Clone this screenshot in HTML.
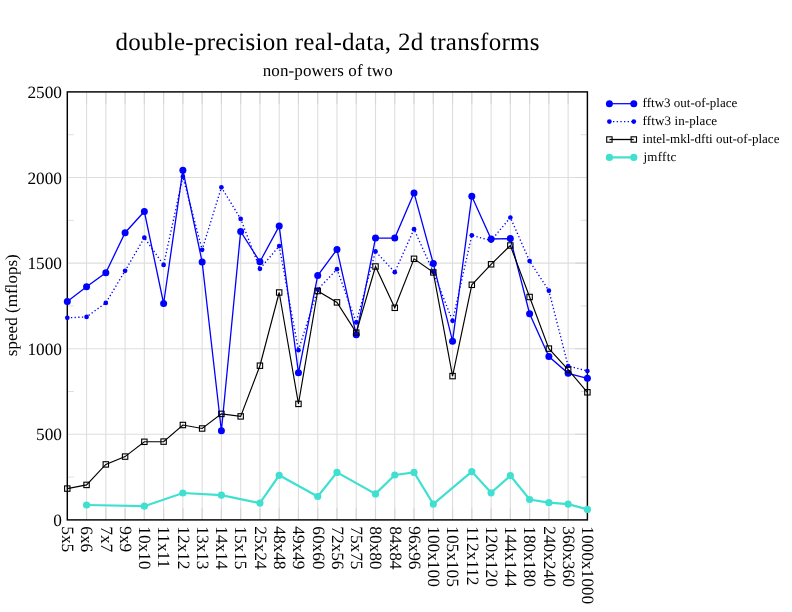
<!DOCTYPE html><html><head><meta charset="utf-8"><style>html,body{margin:0;padding:0;background:#fff;}svg{display:block;will-change:transform;}text{font-family:"Liberation Serif", serif;text-rendering:geometricPrecision;}</style></head><body>
<svg width="792" height="612" viewBox="0 0 792 612">
<rect width="792" height="612" fill="#fff"/>
<path d="M86.56 91.9V519.9M105.83 91.9V519.9M125.09 91.9V519.9M144.35 91.9V519.9M163.61 91.9V519.9M182.88 91.9V519.9M202.14 91.9V519.9M221.4 91.9V519.9M240.67 91.9V519.9M259.93 91.9V519.9M279.19 91.9V519.9M298.46 91.9V519.9M317.72 91.9V519.9M336.98 91.9V519.9M356.24 91.9V519.9M375.51 91.9V519.9M394.77 91.9V519.9M414.03 91.9V519.9M433.3 91.9V519.9M452.56 91.9V519.9M471.82 91.9V519.9M491.09 91.9V519.9M510.35 91.9V519.9M529.61 91.9V519.9M548.87 91.9V519.9M568.14 91.9V519.9M67.3 434.3H587.4M67.3 348.7H587.4M67.3 263.1H587.4M67.3 177.5H587.4" stroke="#dedede" stroke-width="1.1" fill="none"/>
<path d="M67.3 477.1h6.6M587.4 477.1h-6.6M67.3 391.5h6.6M587.4 391.5h-6.6M67.3 305.9h6.6M587.4 305.9h-6.6M67.3 220.3h6.6M587.4 220.3h-6.6M67.3 134.7h6.6M587.4 134.7h-6.6" stroke="#dedede" stroke-width="1" fill="none"/>
<path d="M86.56 519.9v-12M86.56 91.9v12M105.83 519.9v-12M105.83 91.9v12M125.09 519.9v-12M125.09 91.9v12M144.35 519.9v-12M144.35 91.9v12M163.61 519.9v-12M163.61 91.9v12M182.88 519.9v-12M182.88 91.9v12M202.14 519.9v-12M202.14 91.9v12M221.4 519.9v-12M221.4 91.9v12M240.67 519.9v-12M240.67 91.9v12M259.93 519.9v-12M259.93 91.9v12M279.19 519.9v-12M279.19 91.9v12M298.46 519.9v-12M298.46 91.9v12M317.72 519.9v-12M317.72 91.9v12M336.98 519.9v-12M336.98 91.9v12M356.24 519.9v-12M356.24 91.9v12M375.51 519.9v-12M375.51 91.9v12M394.77 519.9v-12M394.77 91.9v12M414.03 519.9v-12M414.03 91.9v12M433.3 519.9v-12M433.3 91.9v12M452.56 519.9v-12M452.56 91.9v12M471.82 519.9v-12M471.82 91.9v12M491.09 519.9v-12M491.09 91.9v12M510.35 519.9v-12M510.35 91.9v12M529.61 519.9v-12M529.61 91.9v12M548.87 519.9v-12M548.87 91.9v12M568.14 519.9v-12M568.14 91.9v12M587.4 434.3h-12M587.4 348.7h-12M587.4 263.1h-12M587.4 177.5h-12" stroke="#d6d6d6" stroke-width="1.1" fill="none"/>
<rect x="67.3" y="91.9" width="520.1" height="428" fill="none" stroke="#000" stroke-width="1.45"/>
<path d="M67.3 301.4 L86.56 286.8 L105.83 272.7 L125.09 232.7 L144.35 211.5 L163.61 303.5 L182.88 170.2 L202.14 262 L221.4 430.8 L240.67 231.5 L259.93 261.8 L279.19 226.1 L298.46 372.8 L317.72 275.6 L336.98 249.5 L356.24 334.8 L375.51 238.1 L394.77 238.1 L414.03 192.9 L433.3 263.6 L452.56 341.2 L471.82 196.3 L491.09 239 L510.35 238.6 L529.61 313.7 L548.87 356.5 L568.14 373.3 L587.4 378.3" stroke="#0000ff" stroke-width="1.3" fill="none" stroke-linejoin="miter"/>
<circle cx="67.3" cy="301.4" r="3.5" fill="#0000ff"/><circle cx="86.56" cy="286.8" r="3.5" fill="#0000ff"/><circle cx="105.83" cy="272.7" r="3.5" fill="#0000ff"/><circle cx="125.09" cy="232.7" r="3.5" fill="#0000ff"/><circle cx="144.35" cy="211.5" r="3.5" fill="#0000ff"/><circle cx="163.61" cy="303.5" r="3.5" fill="#0000ff"/><circle cx="182.88" cy="170.2" r="3.5" fill="#0000ff"/><circle cx="202.14" cy="262" r="3.5" fill="#0000ff"/><circle cx="221.4" cy="430.8" r="3.5" fill="#0000ff"/><circle cx="240.67" cy="231.5" r="3.5" fill="#0000ff"/><circle cx="259.93" cy="261.8" r="3.5" fill="#0000ff"/><circle cx="279.19" cy="226.1" r="3.5" fill="#0000ff"/><circle cx="298.46" cy="372.8" r="3.5" fill="#0000ff"/><circle cx="317.72" cy="275.6" r="3.5" fill="#0000ff"/><circle cx="336.98" cy="249.5" r="3.5" fill="#0000ff"/><circle cx="356.24" cy="334.8" r="3.5" fill="#0000ff"/><circle cx="375.51" cy="238.1" r="3.5" fill="#0000ff"/><circle cx="394.77" cy="238.1" r="3.5" fill="#0000ff"/><circle cx="414.03" cy="192.9" r="3.5" fill="#0000ff"/><circle cx="433.3" cy="263.6" r="3.5" fill="#0000ff"/><circle cx="452.56" cy="341.2" r="3.5" fill="#0000ff"/><circle cx="471.82" cy="196.3" r="3.5" fill="#0000ff"/><circle cx="491.09" cy="239" r="3.5" fill="#0000ff"/><circle cx="510.35" cy="238.6" r="3.5" fill="#0000ff"/><circle cx="529.61" cy="313.7" r="3.5" fill="#0000ff"/><circle cx="548.87" cy="356.5" r="3.5" fill="#0000ff"/><circle cx="568.14" cy="373.3" r="3.5" fill="#0000ff"/><circle cx="587.4" cy="378.3" r="3.5" fill="#0000ff"/>
<path d="M67.3 317.8 L86.56 316.9 L105.83 302.9 L125.09 270.8 L144.35 237.7 L163.61 264.9 L182.88 176.7 L202.14 249.8 L221.4 187.3 L240.67 218.9 L259.93 268.8 L279.19 246.1 L298.46 350.2 L317.72 289.5 L336.98 269.2 L356.24 322.4 L375.51 251.4 L394.77 272.2 L414.03 229.2 L433.3 272 L452.56 320.8 L471.82 235.3 L491.09 240.6 L510.35 217.5 L529.61 261.1 L548.87 290.7 L568.14 366 L587.4 371" stroke="#0000ff" stroke-width="1.35" fill="none" stroke-linejoin="miter" stroke-dasharray="1.3 2.35"/>
<circle cx="67.3" cy="317.8" r="2.35" fill="#0000ff"/><circle cx="86.56" cy="316.9" r="2.35" fill="#0000ff"/><circle cx="105.83" cy="302.9" r="2.35" fill="#0000ff"/><circle cx="125.09" cy="270.8" r="2.35" fill="#0000ff"/><circle cx="144.35" cy="237.7" r="2.35" fill="#0000ff"/><circle cx="163.61" cy="264.9" r="2.35" fill="#0000ff"/><circle cx="182.88" cy="176.7" r="2.35" fill="#0000ff"/><circle cx="202.14" cy="249.8" r="2.35" fill="#0000ff"/><circle cx="221.4" cy="187.3" r="2.35" fill="#0000ff"/><circle cx="240.67" cy="218.9" r="2.35" fill="#0000ff"/><circle cx="259.93" cy="268.8" r="2.35" fill="#0000ff"/><circle cx="279.19" cy="246.1" r="2.35" fill="#0000ff"/><circle cx="298.46" cy="350.2" r="2.35" fill="#0000ff"/><circle cx="317.72" cy="289.5" r="2.35" fill="#0000ff"/><circle cx="336.98" cy="269.2" r="2.35" fill="#0000ff"/><circle cx="356.24" cy="322.4" r="2.35" fill="#0000ff"/><circle cx="375.51" cy="251.4" r="2.35" fill="#0000ff"/><circle cx="394.77" cy="272.2" r="2.35" fill="#0000ff"/><circle cx="414.03" cy="229.2" r="2.35" fill="#0000ff"/><circle cx="433.3" cy="272" r="2.35" fill="#0000ff"/><circle cx="452.56" cy="320.8" r="2.35" fill="#0000ff"/><circle cx="471.82" cy="235.3" r="2.35" fill="#0000ff"/><circle cx="491.09" cy="240.6" r="2.35" fill="#0000ff"/><circle cx="510.35" cy="217.5" r="2.35" fill="#0000ff"/><circle cx="529.61" cy="261.1" r="2.35" fill="#0000ff"/><circle cx="548.87" cy="290.7" r="2.35" fill="#0000ff"/><circle cx="568.14" cy="366" r="2.35" fill="#0000ff"/><circle cx="587.4" cy="371" r="2.35" fill="#0000ff"/>
<path d="M67.3 488.6 L86.56 484.9 L105.83 464.4 L125.09 456.6 L144.35 441.8 L163.61 441.6 L182.88 425 L202.14 428.5 L221.4 413.9 L240.67 416.4 L259.93 365.7 L279.19 292.5 L298.46 403.9 L317.72 291 L336.98 302.4 L356.24 332.6 L375.51 266.5 L394.77 307.8 L414.03 258.8 L433.3 272.4 L452.56 376.1 L471.82 284.8 L491.09 264.3 L510.35 245.5 L529.61 297 L548.87 348.6 L568.14 369.7 L587.4 392.3" stroke="#000" stroke-width="1.15" fill="none" stroke-linejoin="miter"/>
<rect x="64.6" y="485.9" width="5.4" height="5.4" fill="none" stroke="#000" stroke-width="1.1"/><rect x="83.86" y="482.2" width="5.4" height="5.4" fill="none" stroke="#000" stroke-width="1.1"/><rect x="103.13" y="461.7" width="5.4" height="5.4" fill="none" stroke="#000" stroke-width="1.1"/><rect x="122.39" y="453.9" width="5.4" height="5.4" fill="none" stroke="#000" stroke-width="1.1"/><rect x="141.65" y="439.1" width="5.4" height="5.4" fill="none" stroke="#000" stroke-width="1.1"/><rect x="160.91" y="438.9" width="5.4" height="5.4" fill="none" stroke="#000" stroke-width="1.1"/><rect x="180.18" y="422.3" width="5.4" height="5.4" fill="none" stroke="#000" stroke-width="1.1"/><rect x="199.44" y="425.8" width="5.4" height="5.4" fill="none" stroke="#000" stroke-width="1.1"/><rect x="218.7" y="411.2" width="5.4" height="5.4" fill="none" stroke="#000" stroke-width="1.1"/><rect x="237.97" y="413.7" width="5.4" height="5.4" fill="none" stroke="#000" stroke-width="1.1"/><rect x="257.23" y="363" width="5.4" height="5.4" fill="none" stroke="#000" stroke-width="1.1"/><rect x="276.49" y="289.8" width="5.4" height="5.4" fill="none" stroke="#000" stroke-width="1.1"/><rect x="295.76" y="401.2" width="5.4" height="5.4" fill="none" stroke="#000" stroke-width="1.1"/><rect x="315.02" y="288.3" width="5.4" height="5.4" fill="none" stroke="#000" stroke-width="1.1"/><rect x="334.28" y="299.7" width="5.4" height="5.4" fill="none" stroke="#000" stroke-width="1.1"/><rect x="353.54" y="329.9" width="5.4" height="5.4" fill="none" stroke="#000" stroke-width="1.1"/><rect x="372.81" y="263.8" width="5.4" height="5.4" fill="none" stroke="#000" stroke-width="1.1"/><rect x="392.07" y="305.1" width="5.4" height="5.4" fill="none" stroke="#000" stroke-width="1.1"/><rect x="411.33" y="256.1" width="5.4" height="5.4" fill="none" stroke="#000" stroke-width="1.1"/><rect x="430.6" y="269.7" width="5.4" height="5.4" fill="none" stroke="#000" stroke-width="1.1"/><rect x="449.86" y="373.4" width="5.4" height="5.4" fill="none" stroke="#000" stroke-width="1.1"/><rect x="469.12" y="282.1" width="5.4" height="5.4" fill="none" stroke="#000" stroke-width="1.1"/><rect x="488.39" y="261.6" width="5.4" height="5.4" fill="none" stroke="#000" stroke-width="1.1"/><rect x="507.65" y="242.8" width="5.4" height="5.4" fill="none" stroke="#000" stroke-width="1.1"/><rect x="526.91" y="294.3" width="5.4" height="5.4" fill="none" stroke="#000" stroke-width="1.1"/><rect x="546.17" y="345.9" width="5.4" height="5.4" fill="none" stroke="#000" stroke-width="1.1"/><rect x="565.44" y="367" width="5.4" height="5.4" fill="none" stroke="#000" stroke-width="1.1"/><rect x="584.7" y="389.6" width="5.4" height="5.4" fill="none" stroke="#000" stroke-width="1.1"/>
<path d="M86.56 505 L144.35 506.2 L182.88 493 L221.4 495.2 L259.93 503.1 L279.19 475.3 L317.72 496.5 L336.98 472.4 L375.51 493.9 L394.77 475 L414.03 472.4 L433.3 504.1 L471.82 471.6 L491.09 492.8 L510.35 475.6 L529.61 499.5 L548.87 502.7 L568.14 504.1 L587.4 509.4" stroke="#40e0d0" stroke-width="2.2" fill="none" stroke-linejoin="miter"/>
<circle cx="86.56" cy="505" r="3.6" fill="#40e0d0"/><circle cx="144.35" cy="506.2" r="3.6" fill="#40e0d0"/><circle cx="182.88" cy="493" r="3.6" fill="#40e0d0"/><circle cx="221.4" cy="495.2" r="3.6" fill="#40e0d0"/><circle cx="259.93" cy="503.1" r="3.6" fill="#40e0d0"/><circle cx="279.19" cy="475.3" r="3.6" fill="#40e0d0"/><circle cx="317.72" cy="496.5" r="3.6" fill="#40e0d0"/><circle cx="336.98" cy="472.4" r="3.6" fill="#40e0d0"/><circle cx="375.51" cy="493.9" r="3.6" fill="#40e0d0"/><circle cx="394.77" cy="475" r="3.6" fill="#40e0d0"/><circle cx="414.03" cy="472.4" r="3.6" fill="#40e0d0"/><circle cx="433.3" cy="504.1" r="3.6" fill="#40e0d0"/><circle cx="471.82" cy="471.6" r="3.6" fill="#40e0d0"/><circle cx="491.09" cy="492.8" r="3.6" fill="#40e0d0"/><circle cx="510.35" cy="475.6" r="3.6" fill="#40e0d0"/><circle cx="529.61" cy="499.5" r="3.6" fill="#40e0d0"/><circle cx="548.87" cy="502.7" r="3.6" fill="#40e0d0"/><circle cx="568.14" cy="504.1" r="3.6" fill="#40e0d0"/><circle cx="587.4" cy="509.4" r="3.6" fill="#40e0d0"/>
<text x="62" y="526" font-size="17.3" text-anchor="end">0</text>
<text x="62" y="440.4" font-size="17.3" text-anchor="end">500</text>
<text x="62" y="354.8" font-size="17.3" text-anchor="end">1000</text>
<text x="62" y="269.2" font-size="17.3" text-anchor="end">1500</text>
<text x="62" y="183.6" font-size="17.3" text-anchor="end">2000</text>
<text x="62" y="98" font-size="17.3" text-anchor="end">2500</text>
<text transform="translate(62.1 526.3) rotate(90)" font-size="17.3">5x5</text>
<text transform="translate(81.36 526.3) rotate(90)" font-size="17.3">6x6</text>
<text transform="translate(100.63 526.3) rotate(90)" font-size="17.3">7x7</text>
<text transform="translate(119.89 526.3) rotate(90)" font-size="17.3">9x9</text>
<text transform="translate(139.15 526.3) rotate(90)" font-size="17.3">10x10</text>
<text transform="translate(158.41 526.3) rotate(90)" font-size="17.3">11x11</text>
<text transform="translate(177.68 526.3) rotate(90)" font-size="17.3">12x12</text>
<text transform="translate(196.94 526.3) rotate(90)" font-size="17.3">13x13</text>
<text transform="translate(216.2 526.3) rotate(90)" font-size="17.3">14x14</text>
<text transform="translate(235.47 526.3) rotate(90)" font-size="17.3">15x15</text>
<text transform="translate(254.73 526.3) rotate(90)" font-size="17.3">25x24</text>
<text transform="translate(273.99 526.3) rotate(90)" font-size="17.3">48x48</text>
<text transform="translate(293.26 526.3) rotate(90)" font-size="17.3">49x49</text>
<text transform="translate(312.52 526.3) rotate(90)" font-size="17.3">60x60</text>
<text transform="translate(331.78 526.3) rotate(90)" font-size="17.3">72x56</text>
<text transform="translate(351.04 526.3) rotate(90)" font-size="17.3">75x75</text>
<text transform="translate(370.31 526.3) rotate(90)" font-size="17.3">80x80</text>
<text transform="translate(389.57 526.3) rotate(90)" font-size="17.3">84x84</text>
<text transform="translate(408.83 526.3) rotate(90)" font-size="17.3">96x96</text>
<text transform="translate(428.1 526.3) rotate(90)" font-size="17.3">100x100</text>
<text transform="translate(447.36 526.3) rotate(90)" font-size="17.3">105x105</text>
<text transform="translate(466.62 526.3) rotate(90)" font-size="17.3">112x112</text>
<text transform="translate(485.89 526.3) rotate(90)" font-size="17.3">120x120</text>
<text transform="translate(505.15 526.3) rotate(90)" font-size="17.3">144x144</text>
<text transform="translate(524.41 526.3) rotate(90)" font-size="17.3">180x180</text>
<text transform="translate(543.67 526.3) rotate(90)" font-size="17.3">240x240</text>
<text transform="translate(562.94 526.3) rotate(90)" font-size="17.3">360x360</text>
<text transform="translate(582.2 526.3) rotate(90)" font-size="17.3">1000x1000</text>
<text x="327.55" y="49.6" font-size="25" text-anchor="middle" textLength="424" lengthAdjust="spacing">double-precision real-data, 2d transforms</text>
<text x="327.75" y="75.9" font-size="17" text-anchor="middle" textLength="130" lengthAdjust="spacing">non-powers of two</text>
<text transform="translate(17.2 305.2) rotate(-90)" font-size="17" text-anchor="middle" textLength="101.9" lengthAdjust="spacing">speed (mflops)</text>
<path d="M609.4 103.7H633.8" stroke="#0000ff" stroke-width="1.25"/>
<circle cx="609.4" cy="103.7" r="3.5" fill="#0000ff"/><circle cx="633.8" cy="103.7" r="3.5" fill="#0000ff"/>
<text x="642.6" y="107" font-size="13">fftw3 out-of-place</text>
<path d="M609.4 121.6H633.8" stroke="#0000ff" stroke-width="1.35" stroke-dasharray="1.3 2.35"/>
<circle cx="609.4" cy="121.6" r="2.35" fill="#0000ff"/><circle cx="633.8" cy="121.6" r="2.35" fill="#0000ff"/>
<text x="642.6" y="124.9" font-size="13" textLength="74.5" lengthAdjust="spacing">fftw3 in-place</text>
<path d="M609.4 139.5H633.8" stroke="#000" stroke-width="1.3"/>
<rect x="606.7" y="136.8" width="5.4" height="5.4" fill="none" stroke="#000" stroke-width="1.1"/><rect x="631.1" y="136.8" width="5.4" height="5.4" fill="none" stroke="#000" stroke-width="1.1"/>
<text x="642.6" y="142.8" font-size="13">intel-mkl-dfti out-of-place</text>
<path d="M609.4 157.4H633.8" stroke="#40e0d0" stroke-width="2.2"/>
<circle cx="609.4" cy="157.4" r="3.6" fill="#40e0d0"/><circle cx="633.8" cy="157.4" r="3.6" fill="#40e0d0"/>
<text x="643.4" y="160.7" font-size="13" textLength="33" lengthAdjust="spacing">jmfftc</text>
</svg></body></html>
